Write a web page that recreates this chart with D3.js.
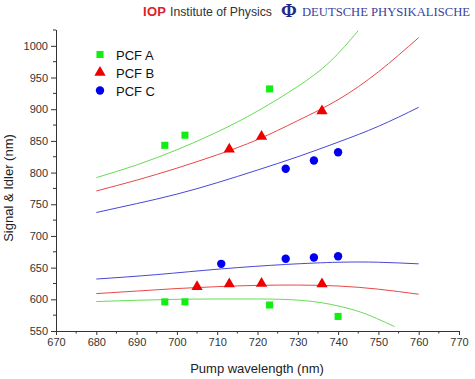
<!DOCTYPE html>
<html>
<head>
<meta charset="utf-8">
<script src="https://cdn.jsdelivr.net/npm/d3@7"></script>
<style>
  body { margin: 0; background: #fff; }
  svg { font-family: Arial, "Liberation Sans", sans-serif; }
  .line { fill: none; stroke-width: 1; }
</style>
</head>
<body>
<div class="chart"></div>
<script>
// measured points (pump nm -> signal / idler nm)
var pcfA_x = [697, 702, 723, 697, 702, 723, 740];
var pcfA_y = [843, 859, 932, 596, 596, 591, 573];
var pcfB_x = [713, 721, 736, 705, 713, 721, 736];
var pcfB_y = [837, 857, 897, 620, 624, 625, 624];
var pcfC_x = [727, 734, 740, 711, 727, 734, 740];
var pcfC_y = [806, 819, 832, 656, 664, 666, 668];

// fitted curves
var fitA_hi_x = [680, 690, 700, 710, 720, 730, 738, 745];
var fitA_hi_y = [792, 812, 836, 864, 897, 936, 975, 1024];
var fitA_lo_x = [680, 690, 700, 710, 720, 728, 736, 744, 749.5, 754];
var fitA_lo_y = [596.5, 598.5, 600, 600.5, 600.5, 599.5, 594.5, 583, 570, 557];
var fitB_hi_x = [680, 690, 700, 710, 720, 730, 740, 750, 760];
var fitB_hi_y = [771, 788, 807, 828, 852, 882, 915, 959, 1013];
var fitB_lo_x = [680, 690, 700, 710, 720, 730, 740, 750, 760];
var fitB_lo_y = [609, 613, 617, 620, 622, 622.5, 621, 616, 608];
var fitC_hi_x = [680, 690, 700, 710, 720, 730, 740, 750, 760];
var fitC_hi_y = [737, 751, 766, 784, 804, 825, 848, 873, 903];
var fitC_lo_x = [680, 695, 711, 727, 740, 750, 760];
var fitC_lo_y = [632, 639, 648, 655, 658.5, 658.5, 656];

var xTicks = [670, 680, 690, 700, 710, 720, 730, 740, 750, 760, 770];
var yTicks = [550, 600, 650, 700, 750, 800, 850, 900, 950, 1000];
var legendNames = ["PCF A", "PCF B", "PCF C"];

var width = 475, height = 379;

var svg = d3.select(".chart").append("svg")
  .attr("width", width)
  .attr("height", height);

// scales
var x = d3.scaleLinear().domain([670, 770]).range([56, 459]);
var y = d3.scaleLinear().domain([550, 1025]).range([331, 30]);

svg.append("clipPath").attr("id", "plot")
  .append("rect")
  .attr("x", 56).attr("y", 30)
  .attr("width", 403).attr("height", 301);

// header banner
var head = svg.append("g");
head.append("text").attr("x", 143).attr("y", 16)
  .style("font-weight", "bold").style("font-size", "13px").attr("fill", "#e0202a")
  .attr("textLength", 23).text("IOP");
head.append("text").attr("x", 170).attr("y", 16)
  .style("font-family", "'Liberation Sans Narrow', 'Arial Narrow', sans-serif")
  .style("font-size", "13px").attr("fill", "#333")
  .attr("textLength", 102).attr("lengthAdjust", "spacingAndGlyphs")
  .text("Institute of Physics");
head.append("text").attr("x", 281).attr("y", 17)
  .style("font-family", "'Liberation Serif', 'DejaVu Serif', serif")
  .style("font-weight", "bold").style("font-size", "19px").attr("fill", "#1c2a8c")
  .text("Φ");
head.append("text").attr("x", 302).attr("y", 16)
  .style("font-family", "'Liberation Serif', 'DejaVu Serif', serif")
  .style("font-size", "12px").attr("fill", "#3a3f9c")
  .attr("textLength", 168).attr("lengthAdjust", "spacingAndGlyphs")
  .text("DEUTSCHE PHYSIKALISCHE");

// axes
var xAxis = d3.axisBottom(x).tickValues(xTicks).tickSize(4).tickPadding(3).tickFormat(d3.format("d"));
var yAxis = d3.axisLeft(y).tickValues(yTicks).tickSize(5).tickPadding(3).tickFormat(d3.format("d"));

var gx = svg.append("g").attr("transform", "translate(0,331)").call(xAxis);
var gy = svg.append("g").attr("transform", "translate(56,0)").call(yAxis);

// minor ticks
var xMinor = xTicks.slice(0, -1).map(function(d) { return d + 5; });
var yMinor = [575, 625, 675, 725, 775, 825, 875, 925, 975, 1025];
svg.append("g").selectAll("line").data(xMinor).enter().append("line")
  .attr("x1", function(d) { return x(d); }).attr("x2", function(d) { return x(d); })
  .attr("y1", 331).attr("y2", 333.5).attr("stroke", "#333");
svg.append("g").selectAll("line").data(yMinor).enter().append("line")
  .attr("y1", function(d) { return y(d); }).attr("y2", function(d) { return y(d); })
  .attr("x1", 56).attr("x2", 53).attr("stroke", "#333");

[gx, gy].forEach(function(g) {
  g.select(".domain").attr("stroke", "#333");
  g.selectAll(".tick line").attr("stroke", "#333");
  g.selectAll(".tick text").attr("fill", "#333").style("font-size", "11px")
    .style("font-family", "Arial, 'Liberation Sans', sans-serif");
});
gy.select(".domain").attr("d", "M0.5," + y(550) + "V30");

svg.append("text").attr("x", 257).attr("y", 373)
  .attr("text-anchor", "middle").style("font-size", "13px").attr("fill", "#222")
  .text("Pump wavelength (nm)");
svg.append("text")
  .attr("transform", "translate(13,188) rotate(-90)")
  .attr("text-anchor", "middle").style("font-size", "13px").attr("fill", "#222")
  .text("Signal & Idler (nm)");

// fitted lines
var line = d3.line()
  .x(function(d) { return x(d[0]); })
  .y(function(d) { return y(d[1]); })
  .curve(d3.curveNatural);

var fits = [
  [fitA_hi_x, fitA_hi_y, "#66dd55"],
  [fitA_lo_x, fitA_lo_y, "#66dd55"],
  [fitB_hi_x, fitB_hi_y, "#e84848"],
  [fitB_lo_x, fitB_lo_y, "#e84848"],
  [fitC_hi_x, fitC_hi_y, "#4848d8"],
  [fitC_lo_x, fitC_lo_y, "#4848d8"]
];
var plot = svg.append("g").attr("clip-path", "url(#plot)");
fits.forEach(function(f) {
  plot.append("path")
    .datum(d3.zip(f[0], f[1]))
    .attr("class", "line")
    .attr("stroke", f[2])
    .attr("d", line);
});

// markers
var sq = d3.symbol().type(d3.symbolSquare).size(50);
var tri = d3.symbol().type(d3.symbolTriangle).size(55);
var cir = d3.symbol().type(d3.symbolCircle).size(55);

function drawPoints(xs, ys, sym, color) {
  svg.append("g").selectAll("path").data(d3.zip(xs, ys)).enter().append("path")
    .attr("d", sym)
    .attr("fill", color)
    .attr("transform", function(d) { return "translate(" + x(d[0]) + "," + y(d[1]) + ")"; });
}
drawPoints(pcfA_x, pcfA_y, sq, "#11ee11");
drawPoints(pcfB_x, pcfB_y, tri, "#ee0000");
drawPoints(pcfC_x, pcfC_y, cir, "#0000ee");

// legend
var legSyms = [sq, tri, cir];
var legColors = ["#11ee11", "#ee0000", "#0000ee"];
var leg = svg.append("g");
legendNames.forEach(function(name, i) {
  var yy = 54.5 + i * 18;
  leg.append("path").attr("d", legSyms[i]).attr("fill", legColors[i])
    .attr("transform", "translate(100," + yy + ")");
  leg.append("text").attr("x", 116).attr("y", yy + 5)
    .style("font-size", "13px").attr("fill", "#111").text(name);
});
</script>
</body>
</html>
